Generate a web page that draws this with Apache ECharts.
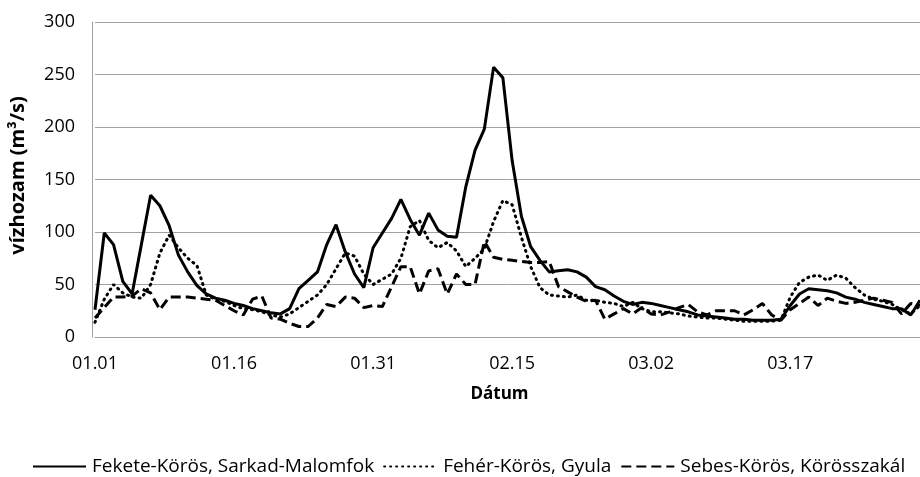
<!DOCTYPE html>
<html>
<head>
<meta charset="utf-8">
<script src="https://cdn.jsdelivr.net/npm/echarts@6/dist/echarts.min.js"></script>
<style>
    html, body { margin: 0; padding: 0; background: #fff; }
    #chart { width: 920px; height: 477px; }
</style>
</head>
<body>
<div id="chart"></div>
<script>
// napi vízhozam, 01.01 - 03.31
var monthLengths = [31, 28, 31];
var labelEvery = 15;

var feketeKoros = [26, 99, 88, 53, 41, 88, 135, 125, 106, 78,
    62, 49, 41, 37, 35, 32, 30, 27, 25, 23,
    22, 27, 46, 54, 62, 88, 107, 81, 60, 47,
    85, 99, 113, 131, 112, 97, 118, 102, 96, 95,
    143, 178, 198, 257, 247, 168, 115, 86, 73, 62,
    63, 64, 62, 57, 48, 45, 39, 34, 31, 33,
    32, 30, 28, 26, 24, 21, 20, 19, 18, 17,
    17, 16, 16, 16, 17, 30, 41, 46, 45, 44,
    42, 38, 36, 33, 31, 29, 27, 27, 21, 35];

var feherKoros = [14, 36, 50, 42, 38, 37, 50, 80, 97, 85,
    75, 68, 40, 36, 34, 30, 27, 26, 24, 21,
    19, 22, 28, 34, 40, 50, 65, 80, 77, 60,
    50, 55, 60, 75, 105, 111, 92, 85, 90, 82,
    67, 75, 84, 110, 130, 126, 95, 67, 47, 40,
    39, 38, 40, 35, 35, 33, 32, 29, 33, 27,
    24, 24, 23, 22, 20, 19, 18, 18, 17, 16,
    15, 15, 15, 15, 16, 38, 52, 57, 59, 54,
    59, 56, 47, 40, 36, 34, 31, 26, 22, 30];

var sebesKoros = [18, 28, 38, 38, 39, 46, 42, 26, 38, 38,
    38, 37, 36, 35, 30, 25, 21, 36, 39, 18,
    17, 13, 10, 10, 18, 31, 29, 38, 37, 28,
    30, 29, 48, 67, 67, 41, 63, 65, 41, 60,
    50, 50, 91, 76, 74, 73, 72, 71, 71, 72,
    48, 43, 38, 34, 35, 17, 22, 27, 22, 28,
    22, 21, 24, 28, 31, 24, 21, 25, 25, 25,
    21, 26, 32, 21, 16, 26, 32, 38, 30, 37,
    34, 32, 33, 35, 37, 35, 33, 22, 32, 30];

var seriesNames = ['Fekete-Körös, Sarkad-Malomfok', 'Fehér-Körös, Gyula', 'Sebes-Körös, Körösszakál'];

function pad(n) {
    return (n < 10 ? '0' : '') + n;
}

var dates = [];
monthLengths.forEach(function (len, m) {
    for (var d = 1; d <= len; d++) {
        dates.push(pad(m + 1) + '.' + pad(d));
    }
});

var font = 'Open Sans';
var gridColor = '#a0a0a0';

var chart = echarts.init(document.getElementById('chart'));
chart.setOption({
    animation: false,
    textStyle: { fontFamily: font, color: '#000' },
    grid: { left: 90, right: -1, top: 22, bottom: 140, containLabel: false },
    legend: {
        top: 457,
        left: 32,
        width: 886,
        padding: 0,
        itemWidth: 53,
        itemHeight: 12,
        itemGap: 9,
        itemStyle: { opacity: 0 },
        textStyle: { fontFamily: font, fontSize: 19, color: '#000', padding: [0, 0, 0, 1] },
        data: seriesNames
    },
    xAxis: {
        type: 'category',
        data: dates,
        boundaryGap: false,
        name: 'Dátum',
        nameLocation: 'middle',
        nameGap: 49,
        nameTextStyle: { fontFamily: font, fontSize: 17, fontWeight: 'bold', color: '#000', padding: [0, 16, 0, 0] },
        axisLine: { lineStyle: { color: gridColor, width: 1 } },
        axisTick: { show: false },
        axisLabel: { interval: labelEvery - 1, margin: 18, fontSize: 18, color: '#000', fontFamily: font }
    },
    yAxis: {
        type: 'value',
        min: 0,
        max: 300,
        interval: 50,
        offset: 3,
        name: 'vízhozam (m³/s)',
        nameLocation: 'middle',
        nameGap: 64,
        nameRotate: 90,
        nameTextStyle: { fontFamily: font, fontSize: 20, fontWeight: 'bold', color: '#000', padding: [0, 0, 0, 8] },
        axisLine: { show: true, lineStyle: { color: gridColor, width: 1 } },
        axisTick: { show: false },
        axisLabel: { margin: 17, fontSize: 18, color: '#000', fontFamily: font },
        splitLine: { lineStyle: { color: gridColor, width: 1 } }
    },
    series: [
        {
            name: seriesNames[0],
            type: 'line',
            data: feketeKoros,
            symbol: 'none',
            itemStyle: { color: '#000' },
            lineStyle: { color: '#000', width: 3 }
        },
        {
            name: seriesNames[1],
            type: 'line',
            data: feherKoros,
            symbol: 'none',
            itemStyle: { color: '#000' },
            lineStyle: { color: '#000', width: 3, type: [1, 5], cap: 'round' }
        },
        {
            name: seriesNames[2],
            type: 'line',
            data: sebesKoros,
            symbol: 'none',
            itemStyle: { color: '#000' },
            lineStyle: { color: '#000', width: 3, type: [10, 5] }
        }
    ]
});
</script>
</body>
</html>
